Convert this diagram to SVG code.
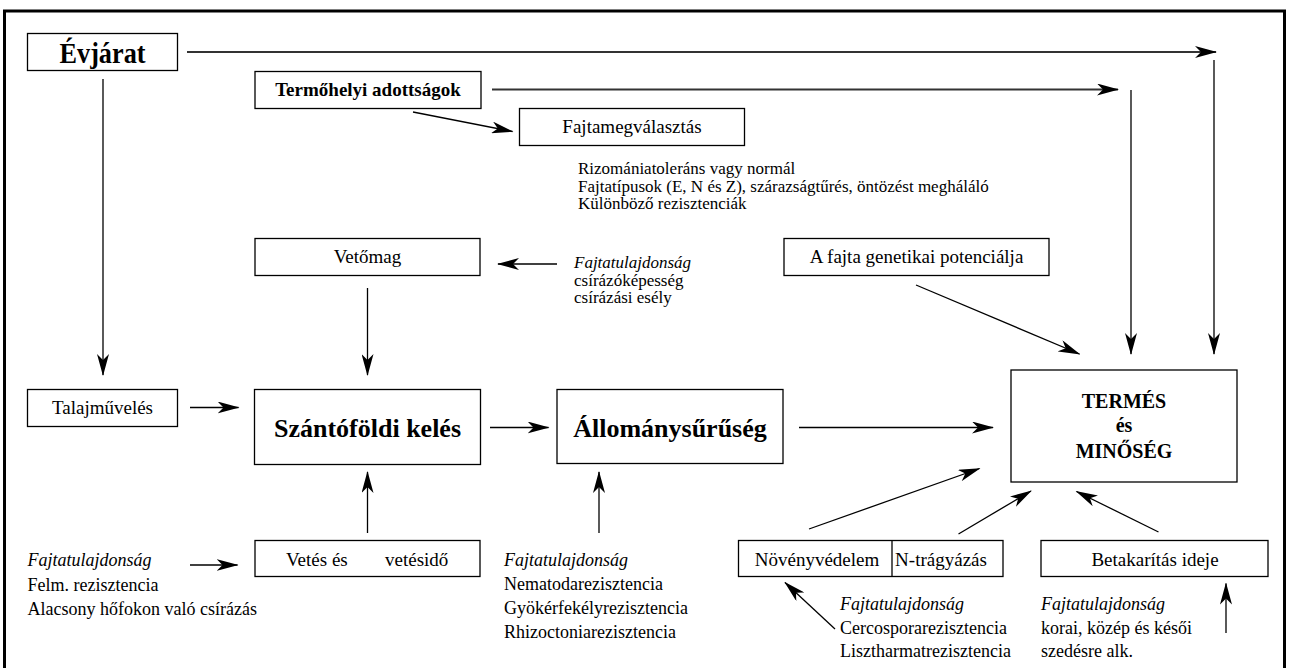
<svg xmlns="http://www.w3.org/2000/svg" width="1289" height="668" viewBox="0 0 1289 668">
<style>
text{font-family:"Liberation Serif","Times New Roman",serif;fill:#000}
.box{fill:#fff;stroke:#000;stroke-width:1.3}
.lbl{font-size:19px;text-anchor:middle}
.big{font-size:26px;font-weight:bold;text-anchor:middle}
.tm{font-size:20px;font-weight:bold;text-anchor:middle}
.note{font-size:17px}
.note2{font-size:18px}
.it{font-style:italic}
.c line{stroke:#000;stroke-width:1.3;marker-end:url(#ah)}
.c line.top{stroke:#333;stroke-width:2}
</style>
<defs>
<marker id="ah" markerUnits="userSpaceOnUse" markerWidth="22" markerHeight="12" refX="21" refY="6" orient="auto" viewBox="0 0 22 12">
<path d="M0,0 L22,6 L0,12 L6,6 z" fill="#000"/>
</marker>
</defs>
<rect x="4.5" y="11" width="1280" height="670" fill="none" stroke="#000" stroke-width="3"/>
<g class="c" id="connectors">
<line class="top" x1="187" y1="52" x2="1216" y2="52"/>
<line x1="103" y1="79" x2="103" y2="375"/>
<line class="top" x1="492" y1="89.5" x2="1118" y2="89.5"/>
<line x1="413" y1="112" x2="512.5" y2="131.5"/>
<line x1="557" y1="264" x2="498" y2="264"/>
<line x1="367.5" y1="288" x2="367.5" y2="375"/>
<line x1="916" y1="285" x2="1079.5" y2="354"/>
<line x1="1131" y1="90" x2="1131" y2="354"/>
<line x1="1214" y1="60" x2="1214" y2="354"/>
<line x1="190" y1="407.5" x2="238.5" y2="407.5"/>
<line x1="490" y1="427.5" x2="548.5" y2="427.5"/>
<line x1="799" y1="427.5" x2="993" y2="427.5"/>
<line x1="367.5" y1="533" x2="367.5" y2="472"/>
<line x1="599" y1="533" x2="599" y2="472"/>
<line x1="190" y1="565" x2="237.5" y2="565"/>
<line x1="809" y1="529" x2="979.5" y2="468.5"/>
<line x1="958.5" y1="534" x2="1031" y2="491"/>
<line x1="1158.5" y1="532" x2="1076.5" y2="491.5"/>
<line x1="835" y1="629" x2="785" y2="582.5"/>
<line x1="1226" y1="633" x2="1226" y2="583.5"/>
</g>
<g id="evjarat"><rect class="box" x="27.5" y="33.5" width="150" height="37"/><text x="102.5" y="62.5" style="font-size:30px;font-weight:bold;text-anchor:middle" textLength="86" lengthAdjust="spacingAndGlyphs">Évjárat</text></g>
<g id="termohelyi"><rect class="box" x="255" y="71.5" width="226" height="37"/><text class="lbl" x="368" y="96" font-weight="bold">Termőhelyi adottságok</text></g>
<g id="fajtamegvalasztas"><rect class="box" x="519.5" y="108.5" width="225" height="37"/><text class="lbl" x="632" y="133">Fajtamegválasztás</text></g>
<g id="fajta-notes"><text class="note" x="578" y="174">Rizomániatoleráns vagy normál</text><text class="note" x="578" y="191.5">Fajtatípusok (E, N és Z), szárazságtűrés, öntözést megháláló</text><text class="note" x="578" y="209">Különböző rezisztenciák</text></g>
<g id="vetomag"><rect class="box" x="255" y="238.5" width="225" height="37"/><text class="lbl" x="367.5" y="263">Vetőmag</text></g>
<g id="vetomag-notes"><text class="note it" x="574" y="268">Fajtatulajdonság</text><text class="note" x="574" y="285.5">csírázóképesség</text><text class="note" x="574" y="303">csírázási esély</text></g>
<g id="genetikai"><rect class="box" x="784" y="238.5" width="265" height="37"/><text class="lbl" x="916.5" y="263">A fajta genetikai potenciálja</text></g>
<g id="talajmuveles"><rect class="box" x="27.5" y="389.5" width="150" height="37"/><text class="lbl" x="102.5" y="414">Talajművelés</text></g>
<g id="szantofoldi"><rect class="box" x="254.5" y="389.5" width="226" height="75"/><text class="big" x="367.5" y="437">Szántóföldi kelés</text></g>
<g id="allomany"><rect class="box" x="557" y="389.5" width="226" height="74"/><text class="big" x="670" y="437">Állománysűrűség</text></g>
<g id="termes"><rect class="box" x="1011" y="370" width="226" height="112"/><text class="tm" x="1124" y="408">TERMÉS</text><text class="tm" x="1124" y="432">és</text><text class="tm" x="1124" y="458">MINŐSÉG</text></g>
<g id="vetes"><rect class="box" x="255" y="540.5" width="225" height="36"/><text style="font-size:19px" y="566"><tspan x="286">Vetés és</tspan><tspan x="385">vetésidő</tspan></text></g>
<g id="vetes-notes"><text class="note2 it" x="27.5" y="566">Fajtatulajdonság</text><text class="note2" x="27.5" y="591">Felm. rezisztencia</text><text class="note2" x="27.5" y="614.5">Alacsony hőfokon való csírázás</text></g>
<g id="allomany-notes"><text class="note2 it" x="504" y="566">Fajtatulajdonság</text><text class="note2" x="504" y="590">Nematodarezisztencia</text><text class="note2" x="504" y="614">Gyökérfekélyrezisztencia</text><text class="note2" x="504" y="638">Rhizoctoniarezisztencia</text></g>
<g id="novenyvedelem"><rect class="box" x="738.5" y="540.5" width="264.5" height="36"/><line x1="892" y1="540.5" x2="892" y2="576.5" stroke="#000" stroke-width="1.3"/><text class="lbl" x="817" y="566">Növényvédelem</text><text class="lbl" x="941" y="566">N-trágyázás</text></g>
<g id="betakaritas"><rect class="box" x="1041" y="540.5" width="227" height="36"/><text class="lbl" x="1155" y="566">Betakarítás ideje</text></g>
<g id="noveny-notes"><text class="note2 it" x="840" y="610">Fajtatulajdonság</text><text class="note2" x="840" y="634">Cercosporarezisztencia</text><text class="note2" x="840" y="657">Lisztharmatrezisztencia</text></g>
<g id="betakaritas-notes"><text class="note2 it" x="1041" y="610">Fajtatulajdonság</text><text class="note2" x="1041" y="634">korai, közép és késői</text><text class="note2" x="1041" y="657">szedésre alk.</text></g>
</svg>
